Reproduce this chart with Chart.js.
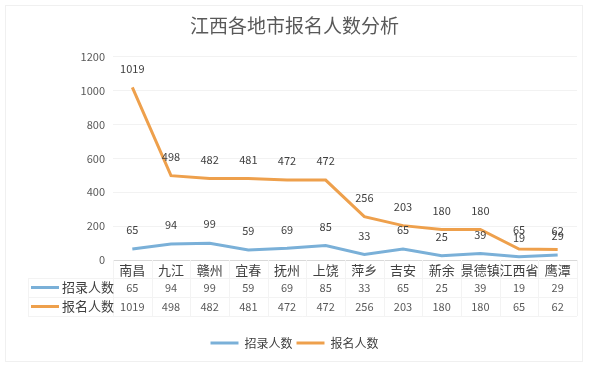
<!DOCTYPE html>
<html>
<head>
<meta charset="utf-8">
<script src="https://cdn.jsdelivr.net/npm/chart.js@4.4.0/dist/chart.umd.min.js"></script>
<style>
  html, body { margin: 0; padding: 0; background: #fff; }
  #wrap { width: 589px; height: 367px; }
</style>
</head>
<body>
<div id="wrap"><canvas id="chart" width="589" height="367"></canvas></div>
<script>
const cidades = ['南昌', '九江', '赣州', '宜春', '抚州', '上饶', '萍乡', '吉安', '新余', '景德镇', '江西省', '鹰潭'];
const zhaolu = [65, 94, 99, 59, 69, 85, 33, 65, 25, 39, 19, 29];
const baoming = [1019, 498, 482, 481, 472, 472, 256, 203, 180, 180, 65, 62];
const yTicks = [0, 200, 400, 600, 800, 1000, 1200];

const FONTE = '"Noto Sans CJK SC", "Noto Sans", sans-serif';
const AZUL = 'rgb(122, 176, 216)';
const LARANJA = 'rgb(238, 160, 76)';

// moldura clara em volta do gráfico
const moldura = {
    id: 'moldura',
    beforeDraw(chart) {
        const ctx = chart.ctx;
        ctx.save();
        ctx.strokeStyle = '#f0f0f0';
        ctx.lineWidth = 1;
        ctx.strokeRect(5.5, 5.5, 577, 356);
        ctx.restore();
    }
};

// rótulos de dados acima dos pontos
const rotulos = {
    id: 'rotulos',
    afterDatasetsDraw(chart) {
        const ctx = chart.ctx;
        ctx.save();
        ctx.font = '11px ' + FONTE;
        ctx.fillStyle = '#404040';
        ctx.textAlign = 'center';
        ctx.textBaseline = 'middle';
        chart.data.datasets.forEach((ds, i) => {
            chart.getDatasetMeta(i).data.forEach((pt, j) => {
                ctx.fillText(String(ds.data[j]), pt.x, pt.y - 19);
            });
        });
        ctx.restore();
    }
};

// tabela de dados embaixo do eixo x
const tabela = {
    id: 'tabela',
    afterDraw(chart) {
        const ctx = chart.ctx;
        const x = chart.scales.x;
        const area = chart.chartArea;
        const passo = x.getPixelForValue(1) - x.getPixelForValue(0);
        const esq = 28;
        const dir = x.getPixelForValue(cidades.length - 1) + passo / 2;
        const topo = area.bottom;
        const linhas = [topo + 18, topo + 37, topo + 56];
        ctx.save();
        ctx.strokeStyle = '#f3f3f3';
        ctx.lineWidth = 1;
        ctx.beginPath();
        linhas.forEach(y => {
            ctx.moveTo(esq, y + 0.5);
            ctx.lineTo(dir, y + 0.5);
        });
        for (let i = 0; i <= cidades.length; i++) {
            const px = Math.round(x.getPixelForValue(i) - passo / 2) + 0.5;
            ctx.moveTo(px, topo);
            ctx.lineTo(px, linhas[2]);
        }
        ctx.moveTo(esq + 0.5, linhas[0]);
        ctx.lineTo(esq + 0.5, linhas[2]);
        ctx.stroke();

        // nomes das cidades
        ctx.font = '13px ' + FONTE;
        ctx.fillStyle = '#404040';
        ctx.textAlign = 'center';
        ctx.textBaseline = 'middle';
        cidades.forEach((c, j) => {
            ctx.fillText(c, x.getPixelForValue(j), topo + 10);
        });

        const series = [
            { nome: '招录人数', cor: AZUL, dados: zhaolu, y: topo + 27.5 },
            { nome: '报名人数', cor: LARANJA, dados: baoming, y: topo + 46.5 }
        ];
        series.forEach(s => {
            ctx.strokeStyle = s.cor;
            ctx.lineWidth = 3;
            ctx.beginPath();
            ctx.moveTo(31, s.y);
            ctx.lineTo(59, s.y);
            ctx.stroke();
            ctx.font = '13px ' + FONTE;
            ctx.fillStyle = '#404040';
            ctx.textAlign = 'left';
            ctx.textBaseline = 'middle';
            ctx.fillText(s.nome, 62, s.y);
            ctx.font = '11px ' + FONTE;
            ctx.fillStyle = '#595959';
            ctx.textAlign = 'center';
            s.dados.forEach((v, j) => {
                ctx.fillText(String(v), x.getPixelForValue(j), s.y);
            });
        });
        ctx.restore();
    }
};

new Chart(document.getElementById('chart'), {
    type: 'line',
    data: {
        labels: cidades,
        datasets: [
            {
                label: '招录人数',
                data: zhaolu,
                borderColor: AZUL,
                backgroundColor: AZUL,
                borderWidth: 3,
                pointRadius: 0,
                tension: 0
            },
            {
                label: '报名人数',
                data: baoming,
                borderColor: LARANJA,
                backgroundColor: LARANJA,
                borderWidth: 3,
                pointRadius: 0,
                tension: 0
            }
        ]
    },
    options: {
        responsive: false,
        animation: false,
        layout: { padding: { left: 12, right: 12, top: 2, bottom: 8 } },
        plugins: {
            title: {
                display: true,
                text: '江西各地市报名人数分析',
                color: '#595959',
                font: { family: FONTE, size: 19, weight: 'normal' },
                padding: { top: 12, bottom: 20 }
            },
            legend: {
                position: 'bottom',
                labels: {
                    usePointStyle: true,
                    pointStyle: 'line',
                    pointStyleWidth: 28,
                    color: '#404040',
                    font: { family: FONTE, size: 12 },
                    padding: 4
                }
            },
            tooltip: { enabled: false }
        },
        scales: {
            x: {
                offset: true,
                grid: { display: false, offset: true },
                border: { color: '#d9d9d9' },
                ticks: { display: false },
                afterFit(scale) { scale.height = 73; }
            },
            y: {
                min: 0,
                max: 1200,
                afterBuildTicks(scale) { scale.ticks = yTicks.map(v => ({ value: v })); },
                grid: { color: '#f2f2f2', drawTicks: false },
                border: { display: false },
                ticks: {
                    color: '#595959',
                    font: { family: FONTE, size: 11 },
                    padding: 8,
                    callback: v => String(v)
                },
                afterFit(scale) { scale.width = 101; }
            }
        }
    },
    plugins: [moldura, rotulos, tabela]
});
</script>
</body>
</html>
